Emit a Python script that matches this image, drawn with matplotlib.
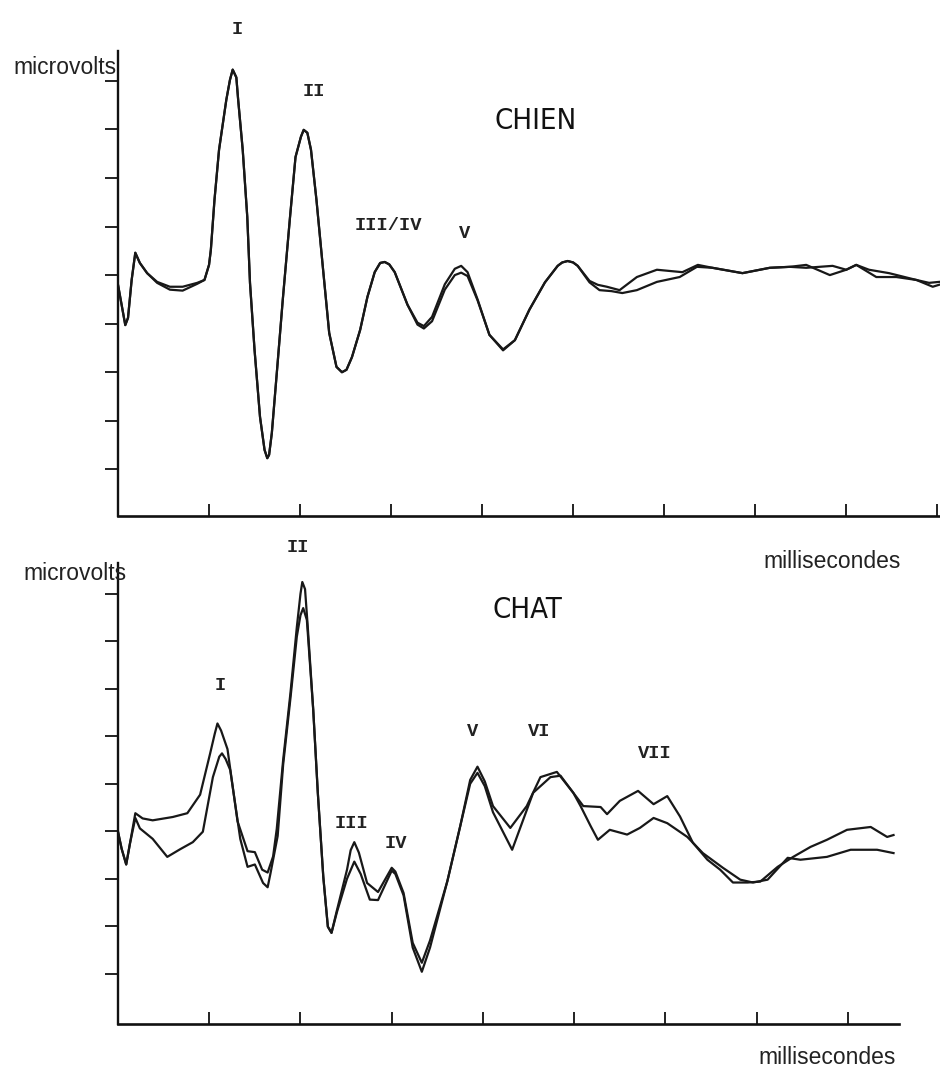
import matplotlib
matplotlib.use("Agg")
import matplotlib.pyplot as plt
from matplotlib import font_manager

# CHIEN (dog) traces; x in ms tick units, y in microvolt tick units
chien_a_x = [0.00, 0.03, 0.08, 0.11, 0.15, 0.19, 0.24, 0.32, 0.43, 0.57, 0.71, 0.87, 0.95, 1.00,
             1.02, 1.06, 1.11, 1.19, 1.23, 1.26, 1.30, 1.32, 1.37, 1.42, 1.45, 1.50, 1.56, 1.61,
             1.64, 1.66, 1.69, 1.75, 1.81, 1.89, 1.95, 2.01, 2.04, 2.08, 2.12, 2.18, 2.25, 2.32,
             2.40, 2.46, 2.51, 2.57, 2.66, 2.74, 2.82, 2.88, 2.93, 2.98, 3.04, 3.18, 3.29, 3.36,
             3.45, 3.59, 3.70, 3.77, 3.84, 3.95, 4.08, 4.23, 4.36, 4.52, 4.69, 4.83, 4.88, 4.94,
             5.00, 5.05, 5.18, 5.27, 5.37, 5.51, 5.70, 5.92, 6.20, 6.37, 6.53, 6.86, 7.16, 7.38,
             7.56, 7.82, 8.00, 8.11, 8.25, 8.47, 8.77, 8.91, 9.02]
chien_a_y = [4.80, 4.49, 3.97, 4.12, 4.90, 5.46, 5.25, 5.04, 4.86, 4.76, 4.76, 4.84, 4.90, 5.21,
             5.52, 6.55, 7.58, 8.61, 9.02, 9.23, 9.07, 8.61, 7.58, 6.20, 4.84, 3.46, 2.08, 1.40,
             1.23, 1.30, 1.75, 3.11, 4.49, 6.20, 7.43, 7.85, 7.99, 7.93, 7.58, 6.55, 5.17, 3.81,
             3.11, 3.00, 3.05, 3.31, 3.87, 4.55, 5.06, 5.25, 5.27, 5.22, 5.06, 4.39, 4.02, 3.95,
             4.14, 4.81, 5.13, 5.19, 5.06, 4.50, 3.77, 3.47, 3.66, 4.29, 4.85, 5.19, 5.26, 5.29,
             5.26, 5.19, 4.88, 4.80, 4.76, 4.69, 4.96, 5.11, 5.06, 5.21, 5.15, 5.04, 5.15, 5.17,
             5.21, 5.00, 5.11, 5.21, 5.11, 5.04, 4.90, 4.84, 4.86]

chien_b_x = [0.00, 0.03, 0.08, 0.11, 0.15, 0.19, 0.24, 0.32, 0.43, 0.57, 0.71, 0.87, 0.95, 1.00,
             1.02, 1.06, 1.11, 1.19, 1.23, 1.26, 1.30, 1.32, 1.37, 1.42, 1.45, 1.50, 1.56, 1.61,
             1.64, 1.66, 1.69, 1.75, 1.81, 1.89, 1.95, 2.01, 2.04, 2.08, 2.12, 2.18, 2.25, 2.32,
             2.40, 2.46, 2.51, 2.57, 2.66, 2.74, 2.82, 2.88, 2.93, 2.98, 3.04, 3.18, 3.29, 3.36,
             3.45, 3.59, 3.70, 3.77, 3.84, 3.95, 4.08, 4.23, 4.36, 4.52, 4.69, 4.83, 4.88, 4.94,
             5.00, 5.05, 5.18, 5.29, 5.42, 5.54, 5.70, 5.92, 6.17, 6.36, 6.53, 6.86, 7.16, 7.38,
             7.56, 7.85, 8.00, 8.11, 8.33, 8.55, 8.77, 8.95, 9.02]
chien_b_y = [4.80, 4.49, 3.97, 4.12, 4.90, 5.46, 5.25, 5.04, 4.84, 4.70, 4.68, 4.82, 4.90, 5.21,
             5.52, 6.55, 7.58, 8.61, 9.02, 9.23, 9.07, 8.61, 7.58, 6.20, 4.84, 3.46, 2.08, 1.40,
             1.23, 1.30, 1.75, 3.11, 4.49, 6.20, 7.43, 7.85, 7.99, 7.93, 7.58, 6.55, 5.17, 3.81,
             3.11, 3.00, 3.05, 3.31, 3.87, 4.55, 5.06, 5.25, 5.27, 5.22, 5.06, 4.39, 3.98, 3.90,
             4.05, 4.70, 5.00, 5.05, 4.98, 4.48, 3.77, 3.45, 3.66, 4.29, 4.85, 5.19, 5.26, 5.29,
             5.26, 5.19, 4.85, 4.69, 4.67, 4.63, 4.69, 4.86, 4.96, 5.17, 5.15, 5.04, 5.15, 5.17,
             5.15, 5.19, 5.11, 5.21, 4.96, 4.96, 4.90, 4.76, 4.80]

# CHAT (cat) traces
chat_a_x = [0.00, 0.04, 0.09, 0.13, 0.19, 0.27, 0.38, 0.60, 0.76, 0.90, 1.01, 1.06, 1.09, 1.13,
            1.20, 1.31, 1.42, 1.50, 1.58, 1.64, 1.70, 1.74, 1.81, 1.89, 1.96, 2.00, 2.02, 2.05,
            2.08, 2.14, 2.19, 2.25, 2.30, 2.34, 2.40, 2.51, 2.55, 2.59, 2.64, 2.73, 2.85, 3.00,
            3.04, 3.13, 3.23, 3.33, 3.42, 3.61, 3.75, 3.86, 3.94, 4.02, 4.11, 4.30, 4.48, 4.63,
            4.81, 4.99, 5.10, 5.29, 5.36, 5.50, 5.70, 5.87, 6.02, 6.16, 6.30, 6.46, 6.60, 6.74,
            6.90, 7.04, 7.23, 7.40, 7.59, 7.77, 7.99, 8.25, 8.43, 8.50]
chat_a_y = [3.99, 3.63, 3.30, 3.73, 4.38, 4.27, 4.23, 4.30, 4.38, 4.77, 5.64, 6.05, 6.27, 6.12,
            5.73, 4.21, 3.58, 3.56, 3.19, 3.13, 3.47, 4.05, 5.50, 6.91, 8.30, 9.00, 9.25, 9.10,
            8.30, 6.55, 4.81, 3.04, 1.99, 1.86, 2.34, 3.19, 3.60, 3.77, 3.55, 2.91, 2.72, 3.23,
            3.15, 2.70, 1.65, 1.23, 1.70, 2.95, 4.10, 5.08, 5.36, 5.05, 4.53, 4.07, 4.53, 5.14,
            5.25, 4.81, 4.53, 4.51, 4.36, 4.64, 4.85, 4.57, 4.74, 4.31, 3.76, 3.40, 3.19, 2.92,
            2.92, 2.94, 3.25, 3.46, 3.67, 3.82, 4.03, 4.09, 3.88, 3.92]

chat_b_x = [0.00, 0.04, 0.09, 0.13, 0.19, 0.24, 0.38, 0.54, 0.68, 0.82, 0.93, 1.04, 1.11, 1.14,
            1.18, 1.23, 1.34, 1.42, 1.50, 1.59, 1.64, 1.67, 1.75, 1.81, 1.89, 1.96, 2.00, 2.03,
            2.07, 2.14, 2.19, 2.25, 2.30, 2.34, 2.40, 2.51, 2.59, 2.66, 2.76, 2.85, 3.00, 3.04,
            3.13, 3.23, 3.33, 3.42, 3.61, 3.75, 3.86, 3.94, 4.02, 4.11, 4.32, 4.55, 4.74, 4.85,
            4.99, 5.07, 5.18, 5.26, 5.39, 5.58, 5.72, 5.87, 6.02, 6.24, 6.41, 6.63, 6.82, 6.96,
            7.12, 7.34, 7.48, 7.77, 8.03, 8.32, 8.50]
chat_b_y = [3.99, 3.63, 3.30, 3.73, 4.28, 4.06, 3.84, 3.46, 3.62, 3.77, 3.99, 5.14, 5.57, 5.64,
            5.52, 5.29, 3.84, 3.25, 3.30, 2.91, 2.82, 3.10, 3.90, 5.40, 6.80, 8.10, 8.55, 8.70,
            8.45, 6.55, 4.81, 3.04, 1.99, 1.86, 2.30, 3.00, 3.36, 3.10, 2.56, 2.55, 3.17, 3.10,
            2.65, 1.55, 1.04, 1.55, 2.95, 4.10, 5.00, 5.23, 4.95, 4.40, 3.61, 4.81, 5.14, 5.17,
            4.81, 4.53, 4.11, 3.82, 4.03, 3.93, 4.07, 4.28, 4.17, 3.88, 3.54, 3.23, 2.98, 2.92,
            2.98, 3.44, 3.40, 3.46, 3.61, 3.61, 3.54]

W, H = 940, 1068
LINE = "#181818"
AXC = "#111111"


def px(x, y):
    return x / W, 1 - y / H


def style_axes(ax, xmax, ylo, yhi, nx):
    ax.set_xlim(0, xmax)
    ax.set_ylim(ylo, yhi)
    for s in ["top", "right"]:
        ax.spines[s].set_visible(False)
    ax.spines["left"].set_linewidth(1.7)
    ax.spines["bottom"].set_linewidth(1.9)
    for s in ["left", "bottom"]:
        ax.spines[s].set_color(AXC)
    ax.set_xticks(range(1, nx + 1))
    ax.set_yticks(range(1, 10))
    ax.tick_params(axis="x", direction="in", length=9, width=1.3, labelbottom=False, colors=AXC)
    ax.tick_params(axis="y", direction="out", length=9.5, width=1.3, labelleft=False, colors=AXC)
    ax.set_facecolor("none")


# look for a narrow sans for the species titles
narrow_file = None
for f in font_manager.fontManager.ttflist:
    n = f.fname.lower()
    if ("narrow" in n or "condensed" in n) and "sans" in n and "mono" not in n:
        if not any(k in n for k in ["bold", "italic", "oblique"]):
            narrow_file = f.fname
            break

fig = plt.figure(figsize=(W / 100, H / 100), dpi=100)
fig.patch.set_facecolor("white")

# top panel: CHIEN
ax1 = fig.add_axes([118 / W, (H - 515.5) / H, 822 / W, 464.8 / H])
ax1.plot(chien_a_x, chien_a_y, color=LINE, lw=1.6, solid_joinstyle="round")
ax1.plot(chien_b_x, chien_b_y, color=LINE, lw=1.6, solid_joinstyle="round")
style_axes(ax1, 9.03, 0.05, 9.62, 9)

# bottom panel: CHAT
ax2 = fig.add_axes([118 / W, (H - 1024) / H, 781 / W, 461 / H])
ax2.plot(chat_a_x, chat_a_y, color=LINE, lw=1.6, solid_joinstyle="round")
ax2.plot(chat_b_x, chat_b_y, color=LINE, lw=1.6, solid_joinstyle="round")
style_axes(ax2, 8.56, -0.06, 9.65, 8)

sans = ["Liberation Sans", "DejaVu Sans"]
mono = ["Liberation Mono", "DejaVu Sans Mono"]

fig.text(*px(13, 67), "microvolts", family=sans, fontsize=16.5, va="center", ha="left", color="#222222")
fig.text(*px(23, 573), "microvolts", family=sans, fontsize=16.5, va="center", ha="left", color="#222222")
fig.text(*px(763, 562), "millisecondes", family=sans, fontsize=16.5, va="center", ha="left", color="#222222")
fig.text(*px(758, 1057), "millisecondes", family=sans, fontsize=16.5, va="center", ha="left", color="#222222")

if narrow_file:
    title_kw = dict(fontproperties=font_manager.FontProperties(fname=narrow_file, size=21))
else:
    title_kw = dict(family=sans, fontsize=19.5)
fig.text(*px(495, 121), "CHIEN", va="center", ha="left", color="#111111", **title_kw)
fig.text(*px(492, 610), "CHAT", va="center", ha="left", color="#111111", **title_kw)

# wave labels
top_labels = [("I", 237, 29), ("II", 314, 91), ("III/IV", 388, 225), ("V", 465, 234)]
bottom_labels = [("II", 298, 548), ("I", 220, 686), ("III", 352, 823), ("IV", 396, 844),
                 ("V", 473, 731), ("VI", 539, 731), ("VII", 655, 754)]
for txt, x, y in top_labels + bottom_labels:
    fig.text(*px(x, y), txt, family=mono, fontsize=13.5, fontweight="bold",
             ha="center", va="center", color="#222222")

fig.savefig("out.png", dpi=100, facecolor="white")
